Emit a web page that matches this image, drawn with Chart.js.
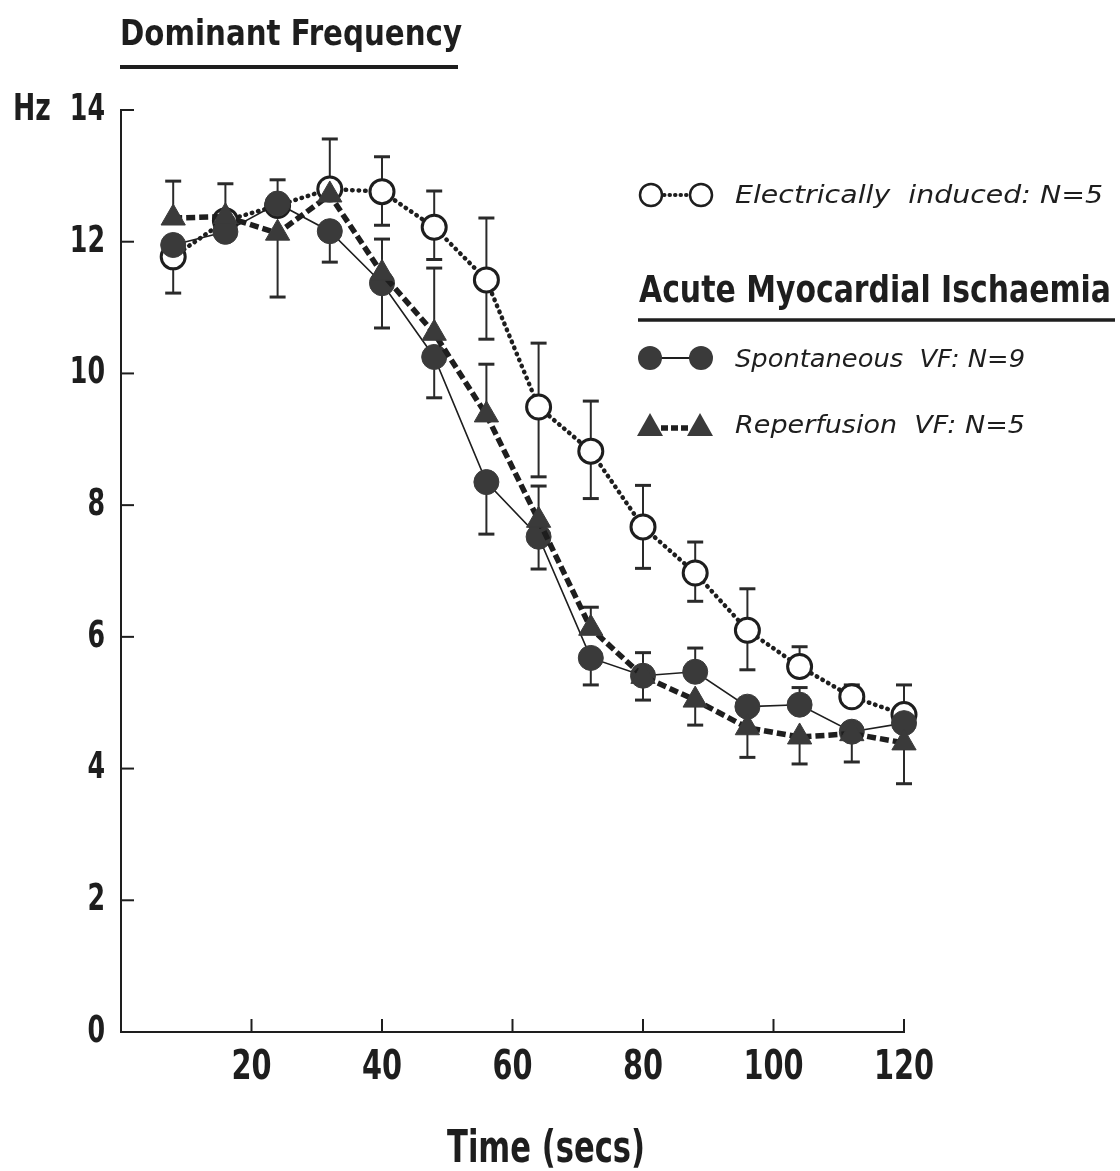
<!DOCTYPE html>
<html>
<head>
<meta charset="utf-8">
<script src="https://cdn.jsdelivr.net/npm/chart.js@4/dist/chart.umd.min.js"></script>
<style>
html,body{margin:0;padding:0;background:#fff;}
#wrap{width:1120px;height:1171px;}
</style>
</head>
<body>
<div id="wrap"><canvas id="c" width="1120" height="1171"></canvas></div>
<script>
// ---- data ----
const timeSecs = [8, 16, 24, 32, 40, 48, 56, 64, 72, 80, 88, 96, 104, 112, 120];

const electricalHz   = [11.77, 12.32, 12.55, 12.8, 12.76, 12.22, 11.42, 9.49, 8.82, 7.67, 6.97, 6.1, 5.55, 5.09, 4.82];
const electricalUp   = [0, 0, 0, 0.76, 0.53, 0.55, 0.94, 0.97, 0.76, 0.63, 0.47, 0.63, 0.30, 0.18, 0.45];
const electricalDown = [0.55, 0, 0, 0, 0.51, 0.49, 0.90, 1.06, 0.72, 0.63, 0.43, 0.6, 0, 0, 0];

const spontaneousHz   = [11.95, 12.15, 12.58, 12.16, 11.37, 10.25, 8.35, 7.52, 5.68, 5.41, 5.47, 4.94, 4.97, 4.56, 4.69];
const spontaneousUp   = [0, 0, 0.36, 0, 0, 0, 0, 0, 0, 0.35, 0.36, 0, 0.26, 0, 0];
const spontaneousDown = [0, 0, 0, 0.47, 0.68, 0.62, 0.79, 0.49, 0.41, 0.37, 0, 0, 0, 0.46, 0];

const reperfusionHz   = [12.36, 12.38, 12.13, 12.71, 11.52, 10.61, 9.37, 7.77, 6.13, 5.4, 5.04, 4.62, 4.48, 4.53, 4.39];
const reperfusionUp   = [0.56, 0.5, 0, 0, 0.52, 0.99, 0.77, 0.52, 0.32, 0, 0, 0, 0, 0, 0];
const reperfusionDown = [0, 0, 0.97, 0, 0, 0, 0, 0, 0, 0, 0.38, 0.45, 0.41, 0, 0.62];

const xTicks = [20, 40, 60, 80, 100, 120];
const yTicks = [0, 2, 4, 6, 8, 10, 12, 14];
const yUnit = 'Hz';

const titleText = 'Dominant Frequency';
const xTitle = 'Time (secs)';
const legendElectrical = 'Electrically  induced: N=5';
const legendGroup = 'Acute Myocardial Ischaemia';
const legendSpont = 'Spontaneous  VF: N=9';
const legendReperf = 'Reperfusion  VF: N=5';

// ---- styling ----
const INK = '#1e1e1e';
const FILL = '#3a3a3a';
const BOLD_FAMILY = "'DejaVu Sans Condensed','Liberation Sans',sans-serif";
const ITALIC_FAMILY = "'DejaVu Sans','Liberation Sans',sans-serif";

const toPts = ys => timeSecs.map((t, i) => ({x: t, y: ys[i]}));

const errorSets = [
  {y: electricalHz, up: electricalUp, dn: electricalDown},
  {y: spontaneousHz, up: spontaneousUp, dn: spontaneousDown},
  {y: reperfusionHz, up: reperfusionUp, dn: reperfusionDown}
];

function fitText(ctx, text, x, y, w, font) {
  ctx.font = font;
  const m = ctx.measureText(text).width;
  ctx.save();
  ctx.translate(x, y);
  ctx.scale(w / m, 1);
  ctx.fillText(text, 0, 0);
  ctx.restore();
}
function squeezeText(ctx, text, x, y, sx, align) {
  ctx.save();
  ctx.translate(x, y);
  ctx.scale(sx, 1);
  ctx.textAlign = align;
  ctx.fillText(text, 0, 0);
  ctx.restore();
}

const decor = {
  id: 'decor',
  beforeDatasetsDraw(chart) {
    const ctx = chart.ctx, xs = chart.scales.x, ys = chart.scales.y;
    ctx.save();
    ctx.strokeStyle = INK;
    ctx.lineWidth = 2;
    const a = chart.chartArea;
    ys.ticks.forEach(t => {
      const py = ys.getPixelForValue(t.value);
      ctx.beginPath(); ctx.moveTo(a.left, py); ctx.lineTo(a.left + 13, py); ctx.stroke();
    });
    xs.ticks.forEach(t => {
      if (t.value === 0) return;
      const px = xs.getPixelForValue(t.value);
      ctx.beginPath(); ctx.moveTo(px, a.bottom); ctx.lineTo(px, a.bottom - 13); ctx.stroke();
    });
    // error bars
    ctx.strokeStyle = '#2a2a2a';
    errorSets.forEach(s => {
      timeSecs.forEach((t, i) => {
        const px = xs.getPixelForValue(t);
        const p0 = ys.getPixelForValue(s.y[i]);
        [[s.up[i], 1], [s.dn[i], -1]].forEach(([e, sign]) => {
          if (!e) return;
          const pe = ys.getPixelForValue(s.y[i] + sign * e);
          ctx.lineWidth = 2;
          ctx.beginPath(); ctx.moveTo(px, p0); ctx.lineTo(px, pe); ctx.stroke();
          ctx.lineWidth = 3;
          ctx.beginPath(); ctx.moveTo(px - 8, pe); ctx.lineTo(px + 8, pe); ctx.stroke();
        });
      });
    });
    ctx.restore();
  },
  afterDraw(chart) {
    const ctx = chart.ctx, xs = chart.scales.x, ys = chart.scales.y, a = chart.chartArea;
    ctx.save();
    ctx.fillStyle = INK;
    ctx.strokeStyle = INK;

    // tick labels (positions from the library's scales)
    ctx.textBaseline = 'middle';
    ctx.font = 'bold 38px ' + BOLD_FAMILY;
    ys.ticks.forEach(t => {
      const py = ys.getPixelForValue(t.value);
      squeezeText(ctx, String(t.value), a.left - 16, py, 0.74, 'right');
    });
    squeezeText(ctx, yUnit, 13, ys.getPixelForValue(ys.max), 0.78, 'left');
    ctx.font = 'bold 40px ' + BOLD_FAMILY;
    xs.ticks.forEach(t => {
      if (t.value === 0) return;
      const px = xs.getPixelForValue(t.value);
      squeezeText(ctx, String(t.value), px, a.bottom + 37, 0.8, 'center');
    });

    ctx.textBaseline = 'alphabetic';
    ctx.textAlign = 'left';
    // main title
    fitText(ctx, titleText, 120, 45, 342, 'bold 36px ' + BOLD_FAMILY);
    ctx.lineWidth = 4;
    ctx.beginPath(); ctx.moveTo(120, 67); ctx.lineTo(458, 67); ctx.stroke();
    // x title
    fitText(ctx, xTitle, 447, 1162, 198, 'bold 44px ' + BOLD_FAMILY);

    // legend: electrical
    ctx.lineWidth = 4;
    ctx.setLineDash([0.5, 5]); ctx.lineCap = 'round';
    ctx.beginPath(); ctx.moveTo(664, 195); ctx.lineTo(690, 195); ctx.stroke();
    ctx.setLineDash([]); ctx.lineCap = 'butt';
    ctx.lineWidth = 2.5;
    [651, 701].forEach(cx => {
      ctx.beginPath(); ctx.arc(cx, 195, 11, 0, Math.PI * 2);
      ctx.fillStyle = '#fff'; ctx.fill(); ctx.stroke();
    });
    ctx.fillStyle = INK;
    fitText(ctx, legendElectrical, 735, 203, 368, 'italic 25px ' + ITALIC_FAMILY);

    // group heading
    fitText(ctx, legendGroup, 639, 302, 472, 'bold 38px ' + BOLD_FAMILY);
    ctx.lineWidth = 3.5;
    ctx.beginPath(); ctx.moveTo(638, 320); ctx.lineTo(1115, 320); ctx.stroke();

    // legend: spontaneous
    ctx.lineWidth = 2;
    ctx.beginPath(); ctx.moveTo(650, 358); ctx.lineTo(701, 358); ctx.stroke();
    ctx.fillStyle = FILL;
    [650, 701].forEach(cx => {
      ctx.beginPath(); ctx.arc(cx, 358, 12, 0, Math.PI * 2); ctx.fill();
    });
    ctx.fillStyle = INK;
    fitText(ctx, legendSpont, 735, 367, 290, 'italic 25px ' + ITALIC_FAMILY);

    // legend: reperfusion
    ctx.lineWidth = 5.5;
    ctx.setLineDash([7, 3]);
    ctx.beginPath(); ctx.moveTo(661, 428); ctx.lineTo(690, 428); ctx.stroke();
    ctx.setLineDash([]);
    ctx.fillStyle = FILL;
    [650, 700].forEach(cx => {
      ctx.beginPath();
      ctx.moveTo(cx, 413); ctx.lineTo(cx + 13, 436); ctx.lineTo(cx - 13, 436); ctx.closePath();
      ctx.fill();
    });
    ctx.fillStyle = INK;
    fitText(ctx, legendReperf, 735, 433, 290, 'italic 25px ' + ITALIC_FAMILY);
    ctx.restore();
  }
};

new Chart(document.getElementById('c'), {
  type: 'line',
  data: {
    datasets: [
      {
        label: legendReperf,
        data: toPts(reperfusionHz),
        order: 1,
        borderColor: INK,
        borderWidth: 5.5,
        borderDash: [9, 4],
        pointStyle: 'triangle',
        pointRadius: 14,
        pointBackgroundColor: FILL,
        pointBorderColor: FILL,
        pointBorderWidth: 1,
        tension: 0,
        fill: false,
        clip: false
      },
      {
        label: legendSpont,
        data: toPts(spontaneousHz),
        order: 2,
        borderColor: INK,
        borderWidth: 1.6,
        pointStyle: 'circle',
        pointRadius: 12.5,
        pointBackgroundColor: FILL,
        pointBorderColor: FILL,
        pointBorderWidth: 1,
        tension: 0,
        fill: false,
        clip: false
      },
      {
        label: legendElectrical,
        data: toPts(electricalHz),
        order: 3,
        borderColor: INK,
        borderWidth: 4.5,
        borderDash: [0.5, 6],
        borderCapStyle: 'round',
        pointStyle: 'circle',
        pointRadius: 12,
        pointBackgroundColor: '#ffffff',
        pointBorderColor: INK,
        pointBorderWidth: 3,
        tension: 0,
        fill: false,
        clip: false
      }
    ]
  },
  options: {
    responsive: false,
    animation: false,
    events: [],
    layout: {padding: {top: 110, right: 216, left: 0, bottom: 0}},
    plugins: {legend: {display: false}, title: {display: false}, tooltip: {enabled: false}},
    scales: {
      x: {
        type: 'linear',
        min: 0, max: 120,
        afterBuildTicks: s => { s.ticks = xTicks.map(v => ({value: v})); },
        afterFit: s => { s.height = 139; },
        grid: {display: true, drawOnChartArea: false, drawTicks: false},
        border: {display: true, color: INK, width: 2},
        ticks: {display: false}
      },
      y: {
        type: 'linear',
        min: 0, max: 14,
        afterBuildTicks: s => { s.ticks = yTicks.map(v => ({value: v})); },
        afterFit: s => { s.width = 121; },
        grid: {display: true, drawOnChartArea: false, drawTicks: false},
        border: {display: true, color: INK, width: 2},
        ticks: {display: false}
      }
    }
  },
  plugins: [decor]
});
</script>
</body>
</html>
